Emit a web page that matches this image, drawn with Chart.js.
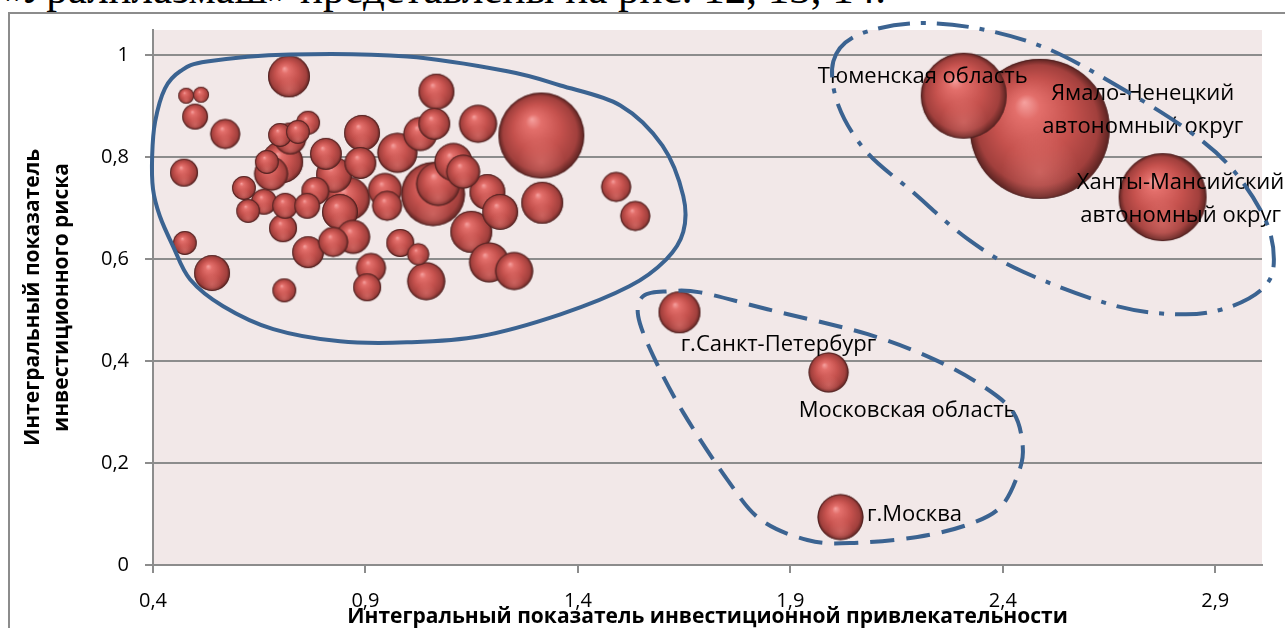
<!DOCTYPE html>
<html>
<head>
<meta charset="utf-8">
<script src="https://cdn.jsdelivr.net/npm/chart.js@4"></script>
<style>
  body { margin: 0; width: 1285px; height: 628px; overflow: hidden; background: #fff; position: relative; }
  #caption { position: absolute; left: -2px; top: -36px; font: 43px "Liberation Serif", serif; color: #000; white-space: nowrap; }
  #frame { position: absolute; left: 8px; top: 12px; width: 1300px; height: 640px; border: 2px solid #8c8c8c; }
  #wrap { position: absolute; left: 0; top: 0; width: 1285px; height: 628px; }
</style>
</head>
<body>
<div id="caption">«Уралплазмаш» представлены на рис. 12, 13, 14.</div>
<div id="frame"></div>
<div id="wrap"><canvas id="chart" width="1285" height="628"></canvas></div>
<script>

/* Data */

// regions inside the big cluster (unlabelled)
const clusterX = [0.478, 0.513, 0.499, 0.570, 0.720, 0.473, 0.475, 0.539, 0.709, 0.614,
  0.624, 0.661, 0.711, 0.706, 0.678, 0.704, 0.668, 0.723, 0.765, 0.699,
  0.741, 0.765, 0.763, 0.782, 0.807, 0.826, 0.892, 0.888, 0.859, 0.840,
  0.871, 0.824, 0.913, 0.904, 0.982, 1.024, 1.043, 0.946, 0.951, 0.975,
  1.029, 1.062, 1.067, 1.059, 1.071, 1.107, 1.130, 1.187, 1.217, 1.149,
  1.191, 1.250, 1.165, 1.316, 1.314, 1.490, 1.535];
const clusterY = [0.921, 0.923, 0.880, 0.846, 0.959, 0.770, 0.632, 0.573, 0.539, 0.740,
  0.695, 0.713, 0.705, 0.661, 0.768, 0.791, 0.791, 0.837, 0.868, 0.844,
  0.850, 0.614, 0.705, 0.734, 0.807, 0.766, 0.848, 0.789, 0.719, 0.693,
  0.644, 0.634, 0.583, 0.545, 0.632, 0.610, 0.557, 0.736, 0.705, 0.809,
  0.846, 0.866, 0.929, 0.728, 0.748, 0.791, 0.772, 0.732, 0.693, 0.654,
  0.594, 0.577, 0.866, 0.711, 0.843, 0.742, 0.685];
const clusterSize = [1.3, 1.3, 3.4, 4.6, 9.0, 4.0, 2.9, 6.6, 2.9, 2.9,
  2.9, 3.4, 3.4, 4.0, 5.9, 9.0, 2.9, 5.2, 2.9, 2.9,
  2.9, 5.2, 3.4, 4.0, 5.2, 6.6, 6.6, 5.2, 9.9, 6.6,
  5.9, 4.6, 4.6, 4.0, 4.0, 2.5, 7.4, 5.9, 4.6, 8.2,
  5.9, 5.2, 6.6, 20.9, 9.9, 7.4, 5.9, 6.6, 6.6, 9.0,
  8.2, 7.4, 7.4, 9.0, 37.7, 4.6, 4.6];

// labelled regions
const regionNames = [
  ["Тюменская область"],
  ["Ямало-Ненецкий", "автономный округ"],
  ["Ханты-Мансийский", "автономный округ"],
  ["г.Санкт-Петербург"],
  ["Московская область"],
  ["г.Москва"]
];
const regionX = [2.308, 2.487, 2.776, 1.639, 1.990, 2.018];
const regionY = [0.921, 0.856, 0.722, 0.496, 0.378, 0.094];
const regionSize = [37.7, 100, 39.5, 9.0, 8.2, 10.8];

const xTicks = [0.4, 0.9, 1.4, 1.9, 2.4, 2.9];
const yTicks = [0, 0.2, 0.4, 0.6, 0.8, 1];

// hand drawn group outlines, in axis units
const groupSolid = [[0.527, 0.988], [0.723, 1.002], [0.998, 0.998], [1.234, 0.969], [1.359, 0.941],
  [1.500, 0.902], [1.599, 0.823], [1.648, 0.724], [1.648, 0.654], [1.608, 0.600], [1.521, 0.547],
  [1.359, 0.492], [1.170, 0.449], [0.998, 0.437], [0.840, 0.439], [0.683, 0.463], [0.565, 0.508],
  [0.487, 0.561], [0.447, 0.626], [0.416, 0.685], [0.400, 0.738], [0.398, 0.803], [0.405, 0.870],
  [0.428, 0.935], [0.464, 0.969]];
const groupDash = [[1.554, 0.528], [1.611, 0.537], [1.688, 0.535], [1.846, 0.502], [2.082, 0.453],
  [2.237, 0.404], [2.355, 0.350], [2.425, 0.299], [2.447, 0.232], [2.437, 0.181], [2.395, 0.114],
  [2.317, 0.079], [2.199, 0.055], [2.042, 0.043], [1.940, 0.049], [1.830, 0.089], [1.752, 0.167],
  [1.648, 0.299], [1.578, 0.409], [1.542, 0.488]];
const groupDashDot = [[2.001, 0.988], [2.056, 1.039], [2.188, 1.063], [2.341, 1.053], [2.503, 1.014],
  [2.668, 0.941], [2.831, 0.856], [2.939, 0.778], [3.017, 0.679], [3.038, 0.600], [3.017, 0.547],
  [2.939, 0.508], [2.831, 0.492], [2.668, 0.508], [2.449, 0.575], [2.317, 0.640], [2.188, 0.732],
  [2.079, 0.811], [2.013, 0.902]];

/* Styles */
const RADIUS_K = 7;       // px radius for size 1
const labelFont = '22px "Open Sans"';
const labelOffsets = [[-41, -19], [103, -35], [18, -14], [99, 32], [79, 38], [74, -2]];
const LINE_STEP = 33;
const outlineColor = '#3b6391';

/* Spheres */
const sphereCache = {};
function sphere(r) {
  const key = Math.round(r * 2);
  if (sphereCache[key]) return sphereCache[key];
  const s = Math.ceil(2 * r + 2);
  const c = document.createElement('canvas');
  c.width = s; c.height = s;
  const g = c.getContext('2d');
  const cx = s / 2, cy = s / 2;
  let grad = g.createRadialGradient(cx - 0.22 * r, cy - 0.38 * r, 0, cx, cy, r);
  grad.addColorStop(0, '#f6a2a0');
  grad.addColorStop(0.18, '#e36f6b');
  grad.addColorStop(0.55, '#c6524e');
  grad.addColorStop(0.86, '#a2403d');
  grad.addColorStop(1, '#5a2321');
  g.fillStyle = grad;
  g.beginPath(); g.arc(cx, cy, r, 0, Math.PI * 2); g.fill();
  // soft reflection at the bottom
  let refl = g.createRadialGradient(cx, cy + 0.62 * r, 0, cx, cy + 0.62 * r, 0.55 * r);
  refl.addColorStop(0, 'rgba(235,130,125,0.45)');
  refl.addColorStop(1, 'rgba(235,130,125,0)');
  g.fillStyle = refl;
  g.beginPath(); g.arc(cx, cy, r - 1, 0, Math.PI * 2); g.fill();
  g.strokeStyle = 'rgba(70,30,30,0.6)';
  g.lineWidth = 1;
  g.beginPath(); g.arc(cx, cy, r - 0.5, 0, Math.PI * 2); g.stroke();
  sphereCache[key] = c;
  return c;
}

/* Points */
const points = [];
for (let i = 0; i < clusterX.length; i++) {
  points.push({x: clusterX[i], y: clusterY[i], r: RADIUS_K * Math.sqrt(clusterSize[i])});
}
for (let i = 0; i < regionX.length; i++) {
  points.push({x: regionX[i], y: regionY[i], r: RADIUS_K * Math.sqrt(regionSize[i]), name: i});
}
points.sort((a, b) => b.r - a.r);

function fmt(v) {
  return String(Math.round(v * 10) / 10).replace('.', ',');
}

/* Plugins */
const plotBg = {
  id: 'plotBg',
  beforeDraw(chart) {
    const {ctx, chartArea: a} = chart;
    ctx.save();
    ctx.fillStyle = '#f2e8e8';
    ctx.fillRect(a.left, a.top, a.right - a.left, a.bottom - a.top);
    ctx.restore();
  }
};

const regionLabels = {
  id: 'regionLabels',
  afterDatasetsDraw(chart) {
    const {ctx} = chart;
    const xs = chart.scales.x, ys = chart.scales.y;
    ctx.save();
    ctx.font = labelFont;
    ctx.fillStyle = '#000';
    ctx.textAlign = 'center';
    ctx.textBaseline = 'middle';
    regionNames.forEach((lines, i) => {
      const px = xs.getPixelForValue(regionX[i]) + labelOffsets[i][0];
      const py = ys.getPixelForValue(regionY[i]) + labelOffsets[i][1];
      lines.forEach((t, k) => ctx.fillText(t, px, py + k * LINE_STEP));
    });
    ctx.restore();
  }
};

function smoothClosed(ctx, pts) {
  const n = pts.length;
  ctx.beginPath();
  ctx.moveTo(pts[0][0], pts[0][1]);
  for (let i = 0; i < n; i++) {
    const p0 = pts[(i - 1 + n) % n], p1 = pts[i], p2 = pts[(i + 1) % n], p3 = pts[(i + 2) % n];
    const c1x = p1[0] + (p2[0] - p0[0]) / 6, c1y = p1[1] + (p2[1] - p0[1]) / 6;
    const c2x = p2[0] - (p3[0] - p1[0]) / 6, c2y = p2[1] - (p3[1] - p1[1]) / 6;
    ctx.bezierCurveTo(c1x, c1y, c2x, c2y, p2[0], p2[1]);
  }
  ctx.closePath();
}

const outlines = {
  id: 'outlines',
  afterDraw(chart) {
    const {ctx} = chart;
    const xs = chart.scales.x, ys = chart.scales.y;
    const toPx = arr => arr.map(p => [xs.getPixelForValue(p[0]), ys.getPixelForValue(p[1])]);
    ctx.save();
    ctx.strokeStyle = outlineColor;
    ctx.lineWidth = 4;
    ctx.lineCap = 'butt';
    ctx.setLineDash([]);
    smoothClosed(ctx, toPx(groupSolid));
    ctx.stroke();
    ctx.setLineDash([24, 12]);
    smoothClosed(ctx, toPx(groupDash));
    ctx.stroke();
    ctx.setLineDash([32, 11, 5, 11]);
    smoothClosed(ctx, toPx(groupDashDot));
    ctx.stroke();
    ctx.restore();
  }
};

/* Chart */
const ctx = document.getElementById('chart').getContext('2d');
new Chart(ctx, {
  type: 'bubble',
  data: {
    datasets: [{
      data: points,
      borderWidth: 0,
      backgroundColor: '#c0504d',
      pointStyle: (c) => sphere(c.raw ? c.raw.r : 10)
    }]
  },
  options: {
    responsive: false,
    animation: false,
    layout: { autoPadding: false, padding: { left: 0, top: 30, right: 23, bottom: 0 } },
    plugins: { legend: { display: false }, tooltip: { enabled: false } },
    scales: {
      x: {
        type: 'linear',
        min: 0.4,
        max: 3.01,
        afterBuildTicks: (s) => { s.ticks = xTicks.map(v => ({value: v})); },
        afterFit: (s) => { s.height = 63; },
        grid: { drawOnChartArea: false, drawTicks: true, tickLength: 8, color: '#8c8c8c', lineWidth: 2 },
        border: { color: '#8c8c8c', width: 2 },
        ticks: { color: '#000', font: { family: 'Open Sans', size: 20 }, padding: 16, callback: fmt, maxRotation: 0 },
        title: {
          display: true,
          text: 'Интегральный показатель инвестиционной привлекательности',
          color: '#000',
          font: { family: 'Open Sans', size: 21, weight: 'bold', lineHeight: 1.2 },
          padding: { top: 0, bottom: -2 }
        }
      },
      y: {
        type: 'linear',
        min: 0,
        max: 1.05,
        afterBuildTicks: (s) => { s.ticks = yTicks.map(v => ({value: v})); },
        afterFit: (s) => { s.width = 153; },
        grid: { color: '#8c8c8c', lineWidth: 2, tickLength: 8 },
        border: { color: '#8c8c8c', width: 2 },
        ticks: { color: '#000', font: { family: 'Open Sans', size: 20 }, padding: 16, callback: fmt },
        title: {
          display: true,
          text: ['Интегральный показатель', 'инвестиционного риска'],
          color: '#000',
          font: { family: 'Open Sans', size: 21, weight: 'bold', lineHeight: 1.4 },
          padding: { top: 18, bottom: 0 }
        }
      }
    }
  },
  plugins: [plotBg, regionLabels, outlines]
});
</script>
</body>
</html>
